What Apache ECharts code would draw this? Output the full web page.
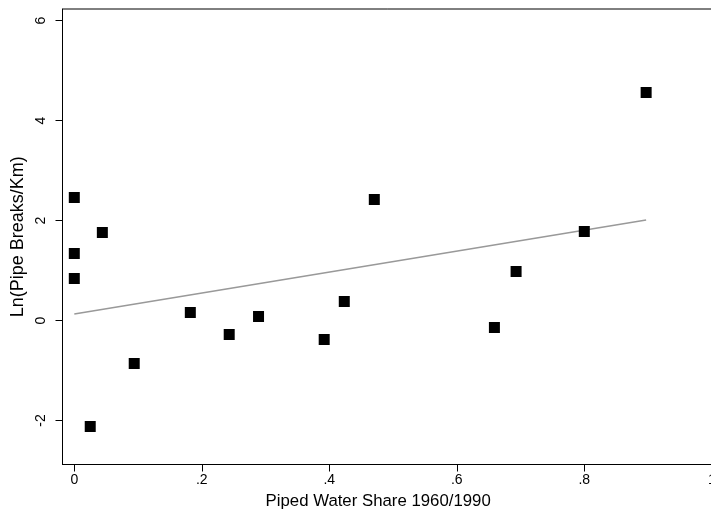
<!DOCTYPE html>
<html>
<head>
<meta charset="utf-8">
<script src="https://cdn.jsdelivr.net/npm/echarts@6/dist/echarts.min.js"></script>
<style>html,body{margin:0;padding:0;background:#fff}#c{width:711px;height:514px}</style>
</head>
<body>
<div id="c"></div>
<script>
var pipedShare = [0, 0.044, 0, 0, 0.182, 0.094, 0.025, 0.289, 0.243, 0.4235, 0.392, 0.4706, 0.8, 0.693, 0.659, 0.897];
var lnBreaks   = [2.46, 1.76, 1.34, 0.84, 0.16, -0.86, -2.12, 0.08, -0.28, 0.38, -0.38, 2.42, 1.78, 0.98, -0.14, 4.56];
var fitX = [0, 0.897];
var fitY = [0.13, 2.01];
var xTicks = [0, 0.2, 0.4, 0.6, 0.8, 1];
var yTicks = [-2, 0, 2, 4, 6];
var xTickLabels = ['0', '.2', '.4', '.6', '.8', '1'];

var pts = pipedShare.map(function (v, i) { return [v, lnBreaks[i]]; });
var fit = fitX.map(function (v, i) { return [v, fitY[i]]; });
var font = 'Liberation Sans, Arial, Helvetica, sans-serif';

var chart = echarts.init(document.getElementById('c'), null, {renderer: 'canvas'});
chart.setOption({
  animation: false,
  backgroundColor: '#fff',
  grid: {left: 62.5, top: 9, width: 649.3, height: 455.5, show: true, borderColor: '#000', borderWidth: 1,
    backgroundColor: 'transparent', containLabel: false, outerBoundsMode: 'none'},
  xAxis: {
    type: 'value', min: -0.0185, max: 1.0,
    splitLine: {show: false},
    axisLine: {show: true, onZero: false, lineStyle: {color: '#000', width: 1}},
    axisTick: {show: true, length: 7, lineStyle: {color: '#000'}, customValues: xTicks},
    axisLabel: {color: '#000', fontFamily: font, fontSize: 14, margin: 9, customValues: xTicks, hideOverlap: false,
      formatter: function (v) { var i = xTicks.indexOf(v); return i >= 0 ? xTickLabels[i] : ''; }},
    name: 'Piped Water Share 1960/1990', nameLocation: 'middle', nameGap: 21,
    nameTextStyle: {color: '#000', fontFamily: font, fontSize: 16.8, padding: [0, 18, 0, 0]}
  },
  yAxis: {
    type: 'value', min: -2.88, max: 6.23,
    splitLine: {show: false},
    axisLine: {show: true, onZero: false, lineStyle: {color: '#000', width: 1}},
    axisTick: {show: true, length: 7, lineStyle: {color: '#000'}, customValues: yTicks},
    axisLabel: {color: '#000', fontFamily: font, fontSize: 14, margin: 14, rotate: 90, align: 'center', customValues: yTicks},
    name: 'Ln(Pipe Breaks/Km)', nameLocation: 'middle', nameGap: 24,
    nameTextStyle: {color: '#000', fontFamily: font, fontSize: 18}
  },
  series: [
    {type: 'scatter', data: pts, symbol: 'rect', symbolSize: 11, itemStyle: {color: '#000', opacity: 1}, z: 3},
    {type: 'line', data: fit, showSymbol: false, symbol: 'none', lineStyle: {color: '#999', width: 1.5}, z: 2}
  ]
});
</script>
</body>
</html>
